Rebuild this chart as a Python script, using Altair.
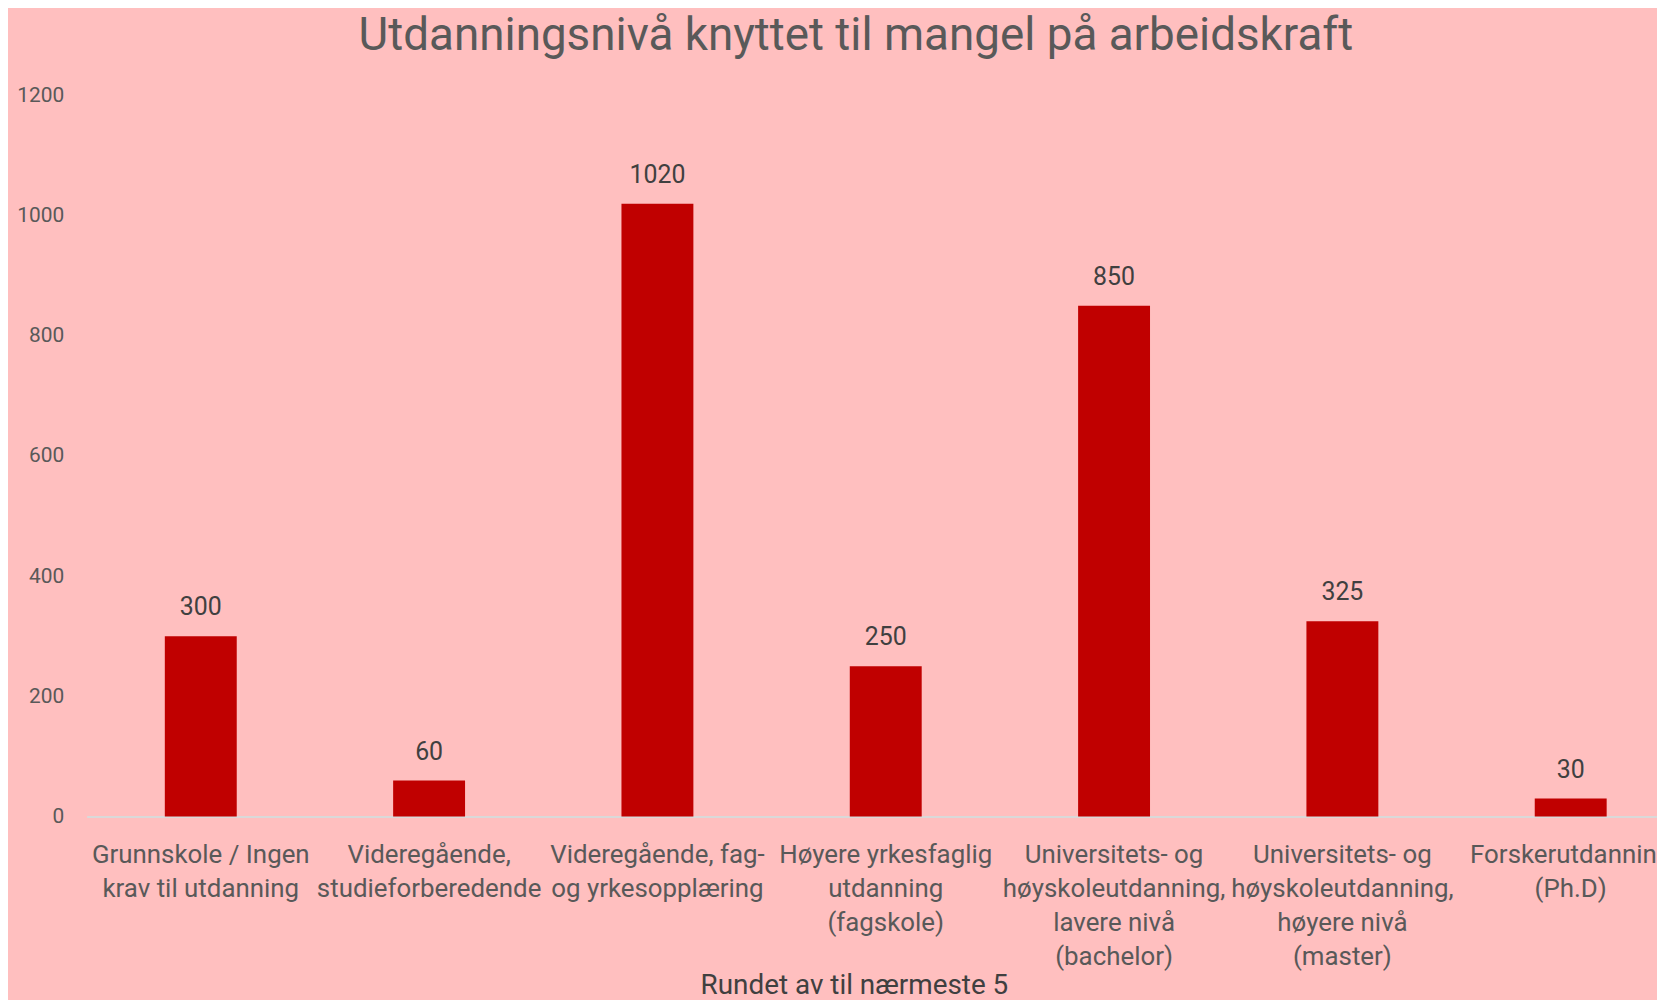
import altair as alt
import pandas as pd

categories = [
    "Grunnskole / Ingen|krav til utdanning",
    "Videregående,|studieforberedende",
    "Videregående, fag-|og yrkesopplæring",
    "Høyere yrkesfaglig|utdanning|(fagskole)",
    "Universitets- og|høyskoleutdanning,|lavere nivå|(bachelor)",
    "Universitets- og|høyskoleutdanning,|høyere nivå|(master)",
    "Forskerutdanning|(Ph.D)",
]
values = [300, 60, 1020, 250, 850, 325, 30]
y_ticks = [0, 200, 400, 600, 800, 1000, 1200]

df = pd.DataFrame({"kategori": categories, "antall": values})

FONT = "Roboto"
BG = "#FFBFBF"

x_enc = alt.X(
    "kategori:N",
    sort=categories,
    scale=alt.Scale(range=[0, 1606], paddingInner=0.685, paddingOuter=0.3425),
    axis=alt.Axis(
        title="Rundet av til nærmeste 5",
        labelAngle=0,
        labelExpr="split(datum.label, '|')",
        labelFontSize=26,
        labelLineHeight=34.3,
        labelColor="#595959",
        labelFont=FONT,
        labelPadding=25,
        labelBaseline="top",
        labelLimit=500,
        labelOverlap=False,
        labelBound=False,
        ticks=False,
        domainColor="#D9D9D9",
        domainWidth=2,
        titleFont=FONT,
        titleFontSize=28,
        titleFontWeight="normal",
        titleColor="#404040",
        titleX=771,
        titleY=178,
        titleAlign="center",
        titleBaseline="alphabetic",
    ),
)

y_enc = alt.Y(
    "antall:Q",
    scale=alt.Scale(domain=[0, 1200], nice=False),
    axis=alt.Axis(
        title=None,
        values=y_ticks,
        format="d",
        grid=False,
        domain=False,
        ticks=False,
        labelFontSize=21,
        labelColor="#595959",
        labelFont=FONT,
        labelPadding=23,
    ),
)

bars = alt.Chart(df).mark_bar(color="#C00000").encode(x=x_enc, y=y_enc)

labels = alt.Chart(df).mark_text(
    baseline="middle", dy=-29, fontSize=25, color="#404040", font=FONT
).encode(x=alt.X("kategori:N", sort=categories), y="antall:Q", text="antall:Q")

chart = (
    alt.layer(bars, labels)
    .properties(
        width=1578,
        height=724.5,
        background=BG,
        autosize=alt.AutoSizeParams(type="none"),
        padding={"left": 79, "top": 85.5, "right": 0, "bottom": 182},
        title=alt.TitleParams(
            "Utdanningsnivå knyttet til mangel på arbeidskraft",
            font=FONT,
            fontSize=46,
            fontWeight="normal",
            color="#595959",
            anchor="middle",
            dx=-16,
            offset=25,
        ),
    )
    .configure_view(stroke=None)
)

chart.save("out.html", embed_options={"renderer": "svg", "actions": False})
